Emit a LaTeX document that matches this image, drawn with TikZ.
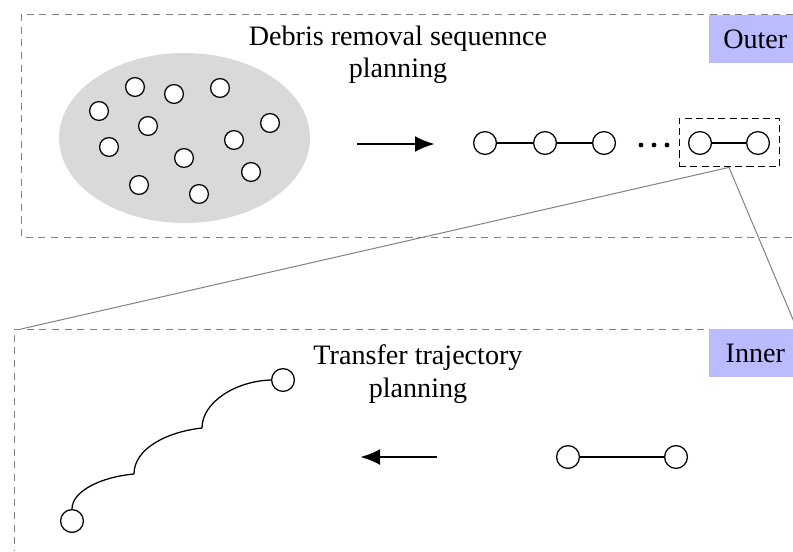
\documentclass[tikz,border=0pt]{standalone}
\usepackage{fontspec}
\setmainfont{Liberation Serif}
\usetikzlibrary{arrows.meta,positioning,calc}
\definecolor{mylavender}{HTML}{BBBBFF}

\begin{document}
\begin{tikzpicture}[
		x=0.025cm,
		y=-0.025cm,
		>=Latex,
		line cap=round,
		line join=round,
		debris/.style={circle,draw,fill=white,line width=0.9pt,inner sep=0pt,minimum size=0.47cm},
		target/.style={circle,draw,fill=white,line width=0.9pt,inner sep=0pt,minimum size=0.57cm},
		frame/.style={gray,line width=0.6pt,dash pattern=on 5pt off 4pt,line cap=butt},
		zoombox/.style={draw,dash pattern=on 5pt off 3pt,line width=0.7pt,line cap=butt,inner sep=0pt,minimum width=2.5cm,minimum height=1.22cm},
		stagelabel/.style={fill=mylavender,inner sep=0pt,minimum width=2.3cm,minimum height=1.2cm,font=\fontsize{20}{22}\selectfont},
		caption/.style={align=center,font=\fontsize{20}{23}\selectfont},
		link/.style={line width=1pt},
		zoomline/.style={gray,line width=0.7pt},
		flow/.style={-{Latex[length=5mm,width=4mm]},line width=2pt,line cap=butt},
		trajseg/.style={line width=0.9pt}
	]
	
	\useasboundingbox (0,0) rectangle (793,551);
	
	% Outer level frame
	\draw[frame] (793,14) -- (21,14) -- (21,237) -- (793,237);
	\node[stagelabel,anchor=north west] (outerlabel) at (709,15) {Outer};
	
	\node[caption] (outercap) at (398,55) {Debris removal sequennce\\planning};
	
	% Debris cloud
	\fill[gray!30] (184.5,138) ellipse [x radius=125.5,y radius=85];
	
	\node[debris] (d1)  at (135,87)  {};
	\node[debris] (d2)  at (174,94)  {};
	\node[debris] (d3)  at (220,88)  {};
	\node[debris] (d4)  at (99,111)  {};
	\node[debris] (d5)  at (148,126) {};
	\node[debris] (d6)  at (270,123) {};
	\node[debris] (d7)  at (109,147) {};
	\node[debris] (d8)  at (234,140) {};
	\node[debris] (d9)  at (184,158) {};
	\node[debris] (d10) at (251,172) {};
	\node[debris] (d11) at (139,185) {};
	\node[debris] (d12) at (199,194) {};
	
	% Ordering arrow
	\coordinate (outerfrom) at (357,144);
	\coordinate (outerto)   at (435,144);
	\draw[flow] (outerfrom) -- (outerto);
	
	% Removal sequence
	\node[target] (s1) at (485,143) {};
	\node[target] (s2) at (545,143) {};
	\node[target] (s3) at (604,143) {};
	\draw[link] (s1) -- (s2);
	\draw[link] (s2) -- (s3);
	
	\fill (641,145) circle (2.4) (654,145) circle (2.4) (667,145) circle (2.4);
	
	\node[zoombox] (pairbox) at (729,142.5) {};
	\node[target] (p1) at (700,143) {};
	\node[target] (p2) at (758,143) {};
	\draw[link] (p1) -- (p2);
	
	% Inner level frame
	\draw[frame] (793,329) -- (14,329) -- (14,551);
	\node[stagelabel,anchor=north west] (innerlabel) at (709,329) {Inner};
	
	% Zoom lines
	\coordinate (innerleft)  at (21,329);
	\coordinate (innerright) at (797,329);
	\draw[zoomline] (pairbox.south) -- (innerleft);
	\draw[zoomline] (pairbox.south) -- (innerright);
	
	\node[caption] (innercap) at (418,374) {Transfer trajectory\\planning};
	
	% Single transfer
	\node[target] (q1) at (568,457) {};
	\node[target] (q2) at (676,457) {};
	\draw[link] (q1) -- (q2);
	
	\coordinate (innerfrom) at (437,457);
	\coordinate (innerto)   at (360,457);
	\draw[flow] (innerfrom) -- (innerto);
	
	% Multi-impulse trajectory
	\node[target] (tstart) at (72,521) {};
	\node[target] (tend)   at (283,380) {};
	\coordinate (imp1) at (134,474);
	\coordinate (imp2) at (202,428);
	\draw[trajseg] (tstart.north) .. controls (72,491) and (101,477) .. (imp1)
	.. controls (134,449) and (166,432) .. (imp2)
	.. controls (202,402) and (236,381) .. (tend.west);
	
\end{tikzpicture}
\end{document}
